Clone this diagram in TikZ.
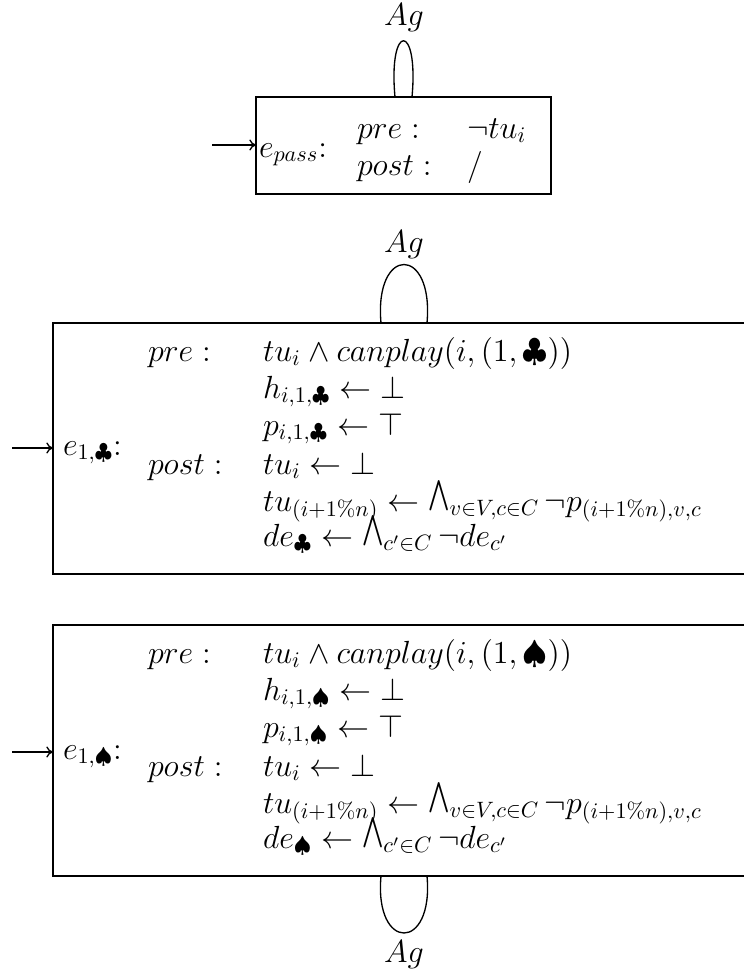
\documentclass[tikz,border=0pt]{standalone}
\usepackage{amsmath,amssymb,graphicx}
\usetikzlibrary{arrows.meta}

% a smaller n-ary conjunction that rests on the baseline
\newcommand\confold{\mathop{\raisebox{0.55ex}{\scalebox{0.8}[0.95]{$\bigwedge$}}}\nolimits}

\tikzset{
  evbox/.style={draw, line width=0.6pt, rectangle, inner sep=0pt},
  txt/.style={anchor=base west, inner sep=0pt, outer sep=0pt, font=\Large},
  lbl/.style={anchor=base, inner sep=0pt, outer sep=0pt, font=\Large},
  initarrow/.style={-{To[length=3pt,width=5pt]}, line width=0.6pt},
  loopline/.style={line width=0.6pt}
}

\begin{document}
\begin{tikzpicture}[x=0.4497pt, y=-0.4497pt]
  \useasboundingbox (0,0) rectangle (744,975);
  \clip (0,0) rectangle (744,975);

  % ---------- pass event ----------
  \coordinate (passNW) at (256,97);
  \coordinate (passSE) at (551,194);
  \draw[evbox] (passNW) rectangle (passSE);
  \node[txt] (passname) at (259,157) {$e_{pass}$:};
  \node[txt] (passpre)  at (357,138) {$pre:$};
  \node[txt] (passpost) at (357,175) {$post:$};
  \node[txt] (passprev) at (467,138) {$\neg tu_i$};
  \node[txt] (passpostv) at (467,175) {$/$};
  \coordinate (passin) at (212,145);
  \coordinate (passW) at (256,145);
  \draw[initarrow] (passin) -- (passW);
  \coordinate (passL) at (395,97);
  \coordinate (passR) at (412,97);
  \draw[loopline] (passL) .. controls (388,22) and (419,22) .. (passR);
  \node[lbl] (passag) at (404,25) {$Ag$};

  % ---------- clubs event ----------
  \coordinate (clubNW) at (53,323);
  \coordinate (clubSE) at (800,574);
  \draw[evbox] (clubNW) rectangle (clubSE);
  \node[txt] (clubname) at (63,455) {$e_{1,\clubsuit}$:};
  \node[txt] (clubpre)  at (148,361) {$pre:$};
  \node[txt] (clubpost) at (148,474) {$post:$};
  \node[txt] (club1) at (263,361) {$tu_i \wedge canplay(i,(1,\clubsuit))$};
  \node[txt] (club2) at (263,398) {$h_{i,1,\clubsuit} \leftarrow \bot$};
  \node[txt] (club3) at (263,435) {$p_{i,1,\clubsuit} \leftarrow \top$};
  \node[txt] (club4) at (263,474) {$tu_i \leftarrow \bot$};
  \node[txt] (club5) at (263,511) {$tu_{(i+1\%n)} \leftarrow \confold_{v\in V,c\in C} \neg p_{(i+1\%n),v,c}$};
  \node[txt] (club6) at (263,546) {$de_{\clubsuit} \leftarrow \confold_{c'\in C} \neg de_{c'}$};
  \coordinate (clubin) at (12,448);
  \coordinate (clubW) at (53,448);
  \draw[initarrow] (clubin) -- (clubW);
  \coordinate (clubL) at (381,323);
  \coordinate (clubR) at (427,323);
  \draw[loopline] (clubL) .. controls (374,245) and (434,245) .. (clubR);
  \node[lbl] (clubag) at (404,252) {$Ag$};

  % ---------- spades event ----------
  \coordinate (spadeNW) at (53,625);
  \coordinate (spadeSE) at (800,876);
  \draw[evbox] (spadeNW) rectangle (spadeSE);
  \node[txt] (spadename) at (63,759) {$e_{1,\spadesuit}$:};
  \node[txt] (spadepre)  at (148,663) {$pre:$};
  \node[txt] (spadepost) at (148,776) {$post:$};
  \node[txt] (spade1) at (263,663) {$tu_i \wedge canplay(i,(1,\spadesuit))$};
  \node[txt] (spade2) at (263,700) {$h_{i,1,\spadesuit} \leftarrow \bot$};
  \node[txt] (spade3) at (263,737) {$p_{i,1,\spadesuit} \leftarrow \top$};
  \node[txt] (spade4) at (263,776) {$tu_i \leftarrow \bot$};
  \node[txt] (spade5) at (263,813) {$tu_{(i+1\%n)} \leftarrow \confold_{v\in V,c\in C} \neg p_{(i+1\%n),v,c}$};
  \node[txt] (spade6) at (263,848) {$de_{\spadesuit} \leftarrow \confold_{c'\in C} \neg de_{c'}$};
  \coordinate (spadein) at (12,752);
  \coordinate (spadeW) at (53,752);
  \draw[initarrow] (spadein) -- (spadeW);
  \coordinate (spadeL) at (381,876);
  \coordinate (spadeR) at (427,876);
  \draw[loopline] (spadeL) .. controls (374,952) and (434,952) .. (spadeR);
  \node[lbl] (spadeag) at (404,962) {$Ag$};
\end{tikzpicture}
\end{document}
